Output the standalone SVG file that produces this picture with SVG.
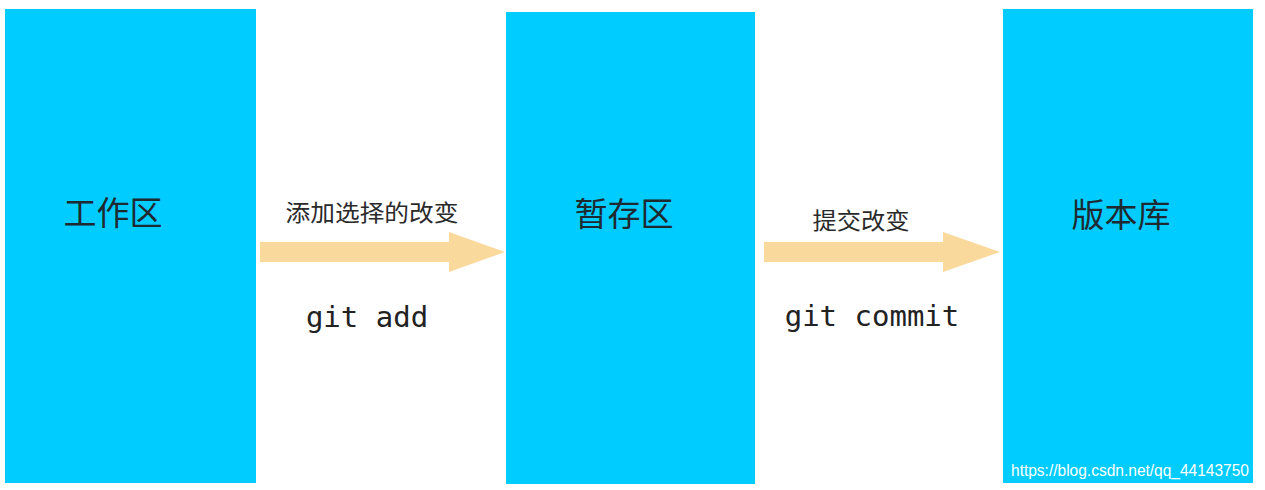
<svg xmlns="http://www.w3.org/2000/svg" width="1265" height="490" viewBox="0 0 1265 490">
<style>
.box{fill:#00ccff}
.title{font-family:"Noto Sans CJK SC","Noto Sans",sans-serif;font-size:33px;fill:#1f2a30;text-anchor:middle}
.lab{font-family:"Noto Sans CJK SC","Noto Sans",sans-serif;font-size:23px;fill:#2a2a2a;text-anchor:middle}
.cmd{font-family:"DejaVu Sans Mono","Liberation Mono",monospace;font-size:29px;fill:#222;text-anchor:middle}
.arrow{fill:#fad99c}
.wm{font-family:"Liberation Sans",Arial,sans-serif;font-size:16px;fill:#ffffff}
</style>
<rect width="1265" height="490" fill="#ffffff"/>
<g id="node-workspace">
<rect class="box" x="5" y="9" width="251" height="474"/>
<text class="title" x="113" y="225">工作区</text>
</g>
<g id="node-stage">
<rect class="box" x="506" y="12" width="249" height="472"/>
<text class="title" x="624" y="226">暂存区</text>
</g>
<g id="node-repo">
<rect class="box" x="1003" y="9" width="250" height="474"/>
<text class="title" x="1121" y="227">版本库</text>
</g>
<g id="connectors">
<polygon class="arrow" points="260,242 449,242 449,232 505,252 449,272 449,262 260,262"/>
<polygon class="arrow" points="764,242 943,242 943,232 1000,252 943,272 943,262 764,262"/>
<text class="lab" x="372" y="221" textLength="173" lengthAdjust="spacingAndGlyphs">添加选择的改变</text>
<text class="cmd" x="367" y="327">git add</text>
<text class="lab" x="861" y="229" textLength="97" lengthAdjust="spacingAndGlyphs">提交改变</text>
<text class="cmd" x="872" y="326">git commit</text>
</g>
<text class="wm" x="1011" y="476" textLength="238" lengthAdjust="spacingAndGlyphs">https://blog.csdn.net/qq_44143750</text>
</svg>
